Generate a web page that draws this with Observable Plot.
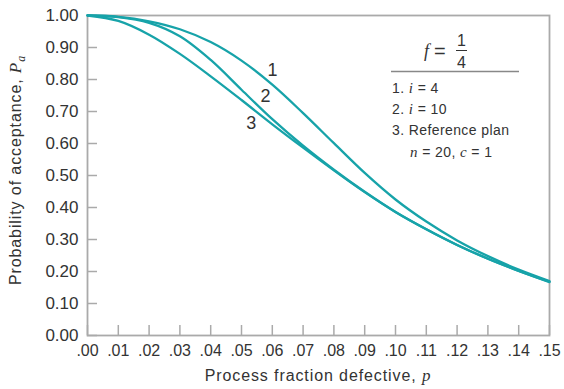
<!DOCTYPE html>
<html><head><meta charset="utf-8">
<script src="https://cdn.jsdelivr.net/npm/d3@7"></script>
<script src="https://cdn.jsdelivr.net/npm/@observablehq/plot@0.6"></script>
<style>
body{margin:0;background:#fff;}
#chart svg{display:block;}
</style>
</head><body><div id="chart"></div>
<script>
// Process fraction defective p
const pValues = [0, .01, .02, .03, .04, .05, .06, .07, .08, .09, .10, .11, .12, .13, .14, .15];
// 1. i = 4
const pa1 = [1.000, .996, .982, .957, .917, .859, .784, .695, .601, .508, .425, .356, .297, .248, .206, .170];
// 2. i = 10
const pa2 = [1.000, .995, .977, .935, .861, .768, .676, .593, .518, .449, .386, .332, .283, .240, .202, .168];
// 3. Reference plan n = 20, c = 1
const pa3 = [1.000, .983, .940, .880, .810, .736, .660, .587, .516, .448, .386, .332, .283, .240, .202, .167];

const xTicks = [0, .01, .02, .03, .04, .05, .06, .07, .08, .09, .10, .11, .12, .13, .14, .15];
const xTickLabels = [".00", ".01", ".02", ".03", ".04", ".05", ".06", ".07", ".08", ".09", ".10", ".11", ".12", ".13", ".14", ".15"];
const yTicks = [0, .1, .2, .3, .4, .5, .6, .7, .8, .9, 1];
const yTickLabels = ["0.00", "0.10", "0.20", "0.30", "0.40", "0.50", "0.60", "0.70", "0.80", "0.90", "1.00"];

const curveLabels = ["1", "2", "3"];
const curveLabelX = [.0601, .0578, .0532];
const curveLabelY = [.828, .747, .6625];

const series = [pa1, pa2, pa3];
const rows = series.flatMap((s, k) => s.map((v, j) => ({curve: k + 1, p: pValues[j], pa: v})));

const teal = "#17a3a9";
const gray = "#aaaaaa";
const ink = "#333333";
const sans = "'Liberation Sans', Arial, sans-serif";

const chart = Plot.plot({
  width: 564,
  height: 389,
  marginLeft: 87,
  marginRight: 15,
  marginTop: 15,
  marginBottom: 54,
  style: {fontFamily: sans, fontSize: "16px", color: ink, background: "#fff", overflow: "visible"},
  x: {domain: [0, .15]},
  y: {domain: [0, 1]},
  marks: [
    Plot.ruleX(xTicks, {x: d => d, y1: 0, y2: 0, insetBottom: 10, stroke: gray, strokeWidth: 1.5}),
    Plot.ruleY(yTicks, {y: d => d, x1: 0, x2: 0, insetLeft: 10, stroke: gray, strokeWidth: 1.5}),
    Plot.frame({stroke: gray, strokeWidth: 1.8}),
    Plot.axisX({ticks: xTicks, tickFormat: d => xTickLabels[xTicks.indexOf(d)], tickSize: 0, tickPadding: 9, label: null, fontSize: 16, letterSpacing: 0.6}),
    Plot.axisY({ticks: yTicks, tickFormat: d => yTickLabels[yTicks.indexOf(d)], tickSize: 0, tickPadding: 9, label: null, fontSize: 17, letterSpacing: 1.4}),
    Plot.line(rows, {x: "p", y: "pa", z: "curve", stroke: teal, strokeWidth: 2.3, curve: "catmull-rom"}),
    Plot.text(curveLabels, {x: (d, i) => curveLabelX[i], y: (d, i) => curveLabelY[i], text: d => d, fontSize: 18, fill: ink})
  ]
});
document.getElementById("chart").appendChild(chart);

// Axis titles and legend with mixed type styles
const svg = d3.select(chart);
const serif = "'Liberation Serif', 'DejaVu Serif', serif";

const xt = svg.append("text").attr("x", 318).attr("y", 381).attr("text-anchor", "middle")
  .attr("fill", ink).attr("font-family", sans).attr("font-size", 16).attr("letter-spacing", 0.9);
xt.append("tspan").text("Process fraction defective, ");
xt.append("tspan").attr("font-family", serif).attr("font-style", "italic").attr("font-size", 17).text("p");

const yt = svg.append("text").attr("transform", "translate(21,170) rotate(-90)").attr("text-anchor", "middle")
  .attr("fill", ink).attr("font-family", sans).attr("font-size", 16).attr("letter-spacing", 0.9);
yt.append("tspan").text("Probability of acceptance, ");
yt.append("tspan").attr("font-family", serif).attr("font-style", "italic").attr("font-size", 17).text("P");
yt.append("tspan").attr("font-family", serif).attr("font-style", "italic").attr("font-size", 12).attr("dy", 4).text("a");

const lg = svg.append("g").attr("fill", ink).attr("font-family", sans).attr("font-size", 14).attr("text-anchor", "start");
lg.append("text").attr("x", 424).attr("y", 57).attr("font-family", serif).attr("font-style", "italic").attr("font-size", 18).text("f");
lg.append("text").attr("x", 434).attr("y", 57.5).attr("font-size", 20).text("=");
lg.append("text").attr("x", 461.5).attr("y", 45.5).attr("text-anchor", "middle").attr("font-size", 16).text("1");
lg.append("line").attr("x1", 456).attr("x2", 467).attr("y1", 50.5).attr("y2", 50.5).attr("stroke", ink).attr("stroke-width", 1);
lg.append("text").attr("x", 461.5).attr("y", 67.5).attr("text-anchor", "middle").attr("font-size", 16).text("4");
lg.append("line").attr("x1", 391).attr("x2", 519).attr("y1", 71.5).attr("y2", 71.5).attr("stroke", "#888").attr("stroke-width", 1.3);

function item(x, y, parts) {
  const t = lg.append("text").attr("x", x).attr("y", y).attr("letter-spacing", 0.4);
  parts.forEach(([s, it]) => {
    const ts = t.append("tspan").text(s);
    if (it) ts.attr("font-family", serif).attr("font-style", "italic").attr("font-size", 15);
  });
}
item(392, 93, [["1. ", false], ["i", true], [" = 4", false]]);
item(392, 114, [["2. ", false], ["i", true], [" = 10", false]]);
item(392, 135, [["3. Reference plan", false]]);
item(410, 157, [["n", true], [" = 20, ", false], ["c", true], [" = 1", false]]);
</script>
</body></html>
